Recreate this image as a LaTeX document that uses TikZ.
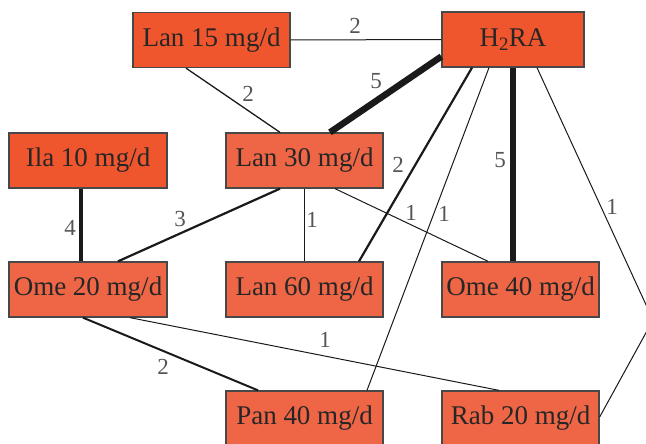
\documentclass[tikz,border=0pt]{standalone}
\usepackage{fontspec}
\setmainfont{Liberation Serif}
\definecolor{fillA}{HTML}{F0562E}
\definecolor{fillB}{HTML}{EE6646}
\definecolor{edgec}{HTML}{1A1A1A}
\definecolor{lblc}{HTML}{555555}
\tikzset{
  box/.style={draw=edgec!80, line width=1.3pt, minimum height=55pt, inner sep=0pt,
    font=\fontsize{27}{30}\selectfont, text=black!85},
  boxA/.style={box, fill=fillA},
  boxB/.style={box, fill=fillB},
  lbl/.style={font=\fontsize{23}{26}\selectfont, text=lblc, inner sep=0pt},
  thin/.style={draw=edgec, line width=1pt},
  mid/.style={draw=edgec, line width=2.2pt},
  thk/.style={draw=edgec, line width=4pt},
  vthk/.style={draw=edgec, line width=6.5pt},
}
\begin{document}
\begin{tikzpicture}[x=1pt,y=-1pt]
\useasboundingbox (0,0) rectangle (646,444);
% edges first (under nodes) -- positions via coordinates, drawn after nodes defined on background
\node[boxA, minimum width=157pt] (lan15) at (211.5,40) {Lan 15 mg/d};
\node[boxA, minimum width=142pt] (h2ra) at (513,39.5) {H\textsubscript{2}RA};
\node[boxA, minimum width=158pt] (ila10) at (88,160.5) {Ila 10 mg/d};
\node[boxB, minimum width=157pt] (lan30) at (304.5,160.5) {Lan 30 mg/d};
\node[boxB, minimum width=158pt] (ome20) at (88,289.5) {Ome 20 mg/d};
\node[boxB, minimum width=157pt] (lan60) at (304.5,289.5) {Lan 60 mg/d};
\node[boxB, minimum width=157pt] (ome40) at (520.5,289.5) {Ome 40 mg/d};
\node[boxB, minimum width=157pt] (pan40) at (304.5,418.5) {Pan 40 mg/d};
\node[boxB, minimum width=157pt] (rab20) at (520.5,418.5) {Rab 20 mg/d};
\coordinate (bend) at (653,320);

\draw[thin] (lan15.east) -- (h2ra.west);
\draw[thin, line width=1.3pt] ([xshift=-25.5pt]lan15.south) -- ([xshift=-24.5pt]lan30.north);
\draw[vthk] ([yshift=-17pt]h2ra.west) -- ([xshift=25.5pt]lan30.north);
\draw[mid] ([xshift=-41pt]h2ra.south) -- ([xshift=54.5pt]lan60.north);
\draw[thin] ([xshift=-24pt]h2ra.south) -- ([xshift=62.5pt]pan40.north);
\draw[vthk] ([xshift=0pt]h2ra.south) -- ([xshift=-7.5pt]ome40.north);
\draw[thin] ([xshift=24pt]h2ra.south) -- (bend) -- ([yshift=1.5pt]rab20.east);
\draw[mid] ([xshift=-24.5pt]lan30.south) -- ([xshift=30pt]ome20.north);
\draw[thin] (lan30.south) -- (lan60.north);
\draw[thin] ([xshift=30.5pt]lan30.south) -- ([xshift=-32.5pt]ome40.north);
\draw[thk] ([xshift=-7pt]ila10.south) -- ([xshift=-7pt]ome20.north);
\draw[mid, line width=2pt] ([xshift=-5pt]ome20.south) -- ([xshift=-46.5pt]pan40.north);
\draw[thin] ([xshift=42pt]ome20.south) -- ([xshift=-21.5pt]rab20.north);

\node[lbl] (l1) at (355,26) {2};
\node[lbl] (l2) at (248,94) {2};
\node[lbl] (l3) at (376,81) {5};
\node[lbl] (l4) at (398,165) {2};
\node[lbl] (l5) at (444,214) {1};
\node[lbl] (l6) at (500,160) {5};
\node[lbl] (l7) at (612,207) {1};
\node[lbl] (l8) at (180,219) {3};
\node[lbl] (l9) at (312,220) {1};
\node[lbl] (l10) at (411,213) {1};
\node[lbl] (l11) at (70,228) {4};
\node[lbl] (l12) at (163,367) {2};
\node[lbl] (l13) at (325,340) {1};
\end{tikzpicture}
\end{document}
